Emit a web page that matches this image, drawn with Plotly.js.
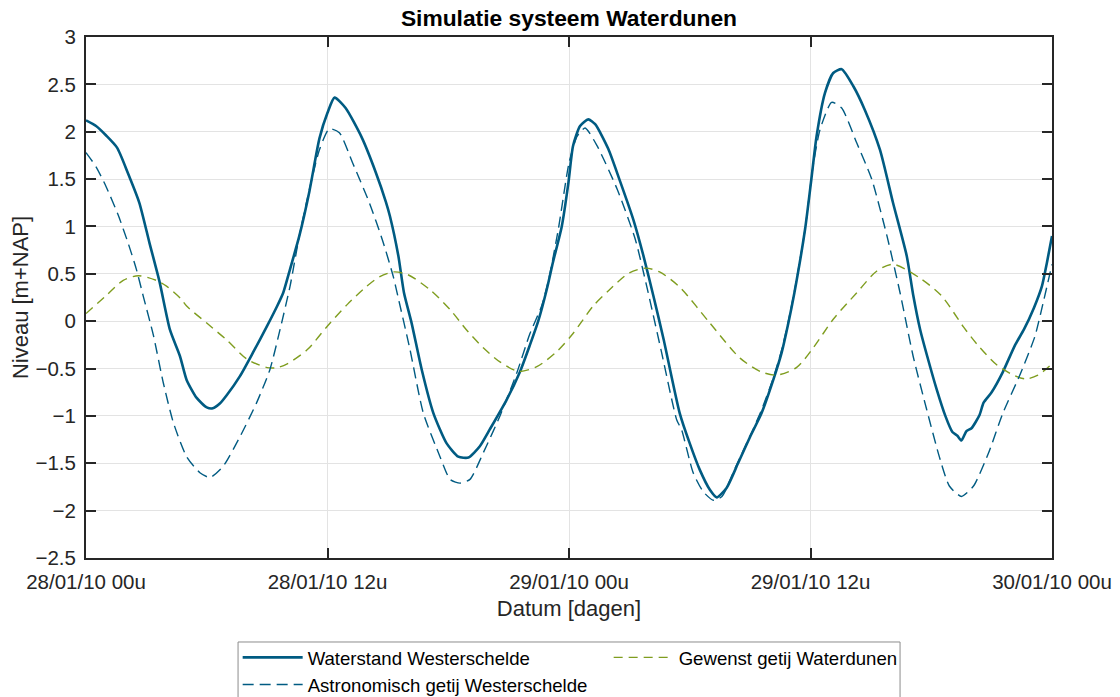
<!DOCTYPE html>
<html>
<head>
<meta charset="utf-8">
<script src="https://cdn.plot.ly/plotly-3.0.1.min.js"></script>
<style>html,body{margin:0;padding:0;background:#fff;}#chart{width:1120px;height:697px;}</style>
</head>
<body>
<div id="chart"></div>
<script>
// Hours since 28/01/10 00u
const tickVals = [0, 12, 24, 36, 48];
const tickLabels = ["28/01/10 00u", "28/01/10 12u", "29/01/10 00u", "29/01/10 12u", "30/01/10 00u"];

// Waterstand Westerschelde (solid)
const waterstandH = [0,0.5,1.0,1.55,2.07,2.65,3.15,3.65,4.17,4.67,5.0,5.5,6.0,6.3,6.65,7.0,7.65,8.3,9.0,9.5,9.8,10.14,10.6,11.1,11.6,12.0,12.35,12.9,13.7,14.4,14.9,15.1,15.52,15.8,16.18,16.68,17.26,17.92,18.5,19.0,19.57,20.07,20.9,21.57,22.06,22.47,22.9,23.2,23.64,23.97,24.2,24.55,24.96,25.3,25.95,26.5,27.2,27.7,28.2,28.7,29.5,30.0,30.5,31.0,31.34,31.83,32.4,33.0,33.57,34.15,34.57,34.9,35.2,35.73,36.06,36.3,36.72,37.13,37.55,38.13,38.7,39.45,40.1,40.78,41.1,41.45,41.8,42.27,42.7,43.05,43.3,43.5,43.75,44.0,44.4,44.6,45.0,45.55,46.17,46.6,47.1,47.5,47.75,48.0];
const waterstandV = [2.12,2.06,1.96,1.83,1.57,1.25,0.83,0.42,-0.09,-0.37,-0.62,-0.81,-0.91,-0.92,-0.87,-0.78,-0.58,-0.33,-0.05,0.16,0.30,0.55,0.90,1.37,1.93,2.20,2.36,2.25,1.94,1.57,1.26,1.11,0.69,0.30,-0.02,-0.51,-0.97,-1.29,-1.43,-1.44,-1.32,-1.14,-0.83,-0.53,-0.25,0.0,0.34,0.62,1.0,1.46,1.85,2.06,2.13,2.08,1.82,1.50,1.07,0.69,0.26,-0.19,-0.97,-1.29,-1.57,-1.78,-1.86,-1.76,-1.50,-1.22,-0.97,-0.62,-0.33,-0.02,0.30,0.97,1.53,1.95,2.41,2.62,2.66,2.48,2.23,1.81,1.25,0.69,0.28,-0.09,-0.37,-0.72,-1.0,-1.17,-1.21,-1.26,-1.16,-1.13,-0.99,-0.86,-0.75,-0.54,-0.25,-0.09,0.14,0.37,0.62,0.90];

// Astronomisch getij Westerschelde (dashed)
const astroH = [0,0.5,1.0,1.6,2.1,2.5,2.85,3.35,3.84,4.34,5.0,5.66,6.16,6.82,7.65,8.48,9.14,9.64,10.14,10.6,11.1,11.6,12.09,12.59,13.25,14.08,14.74,15.27,15.5,16.1,16.76,17.59,18.09,18.58,19.08,19.74,20.57,21.4,22.06,22.64,23.0,23.47,24.0,24.4,24.8,25.4,26.4,27.3,27.86,28.6,29.35,29.6,30.17,30.67,31.17,31.6,32.3,33.15,33.6,34.15,34.57,34.9,35.23,35.73,36.1,36.47,37.05,37.55,38.3,39.04,39.8,40.45,41.1,41.77,42.4,42.9,43.5,44.1,44.85,45.56,46.44,47.15,47.6,48.0];
const astroV = [1.78,1.63,1.42,1.12,0.82,0.55,0.26,-0.15,-0.65,-1.07,-1.43,-1.60,-1.65,-1.53,-1.22,-0.86,-0.51,-0.09,0.37,0.90,1.39,1.81,2.03,1.99,1.67,1.25,0.85,0.47,0.26,-0.30,-0.97,-1.43,-1.67,-1.71,-1.67,-1.39,-1.0,-0.55,-0.13,0.16,0.45,0.97,1.67,1.95,2.04,1.85,1.39,0.86,0.37,-0.33,-1.04,-1.15,-1.60,-1.80,-1.89,-1.85,-1.53,-1.14,-0.92,-0.60,-0.30,0.0,0.35,0.97,1.60,2.02,2.31,2.25,1.88,1.50,0.90,0.30,-0.37,-0.93,-1.43,-1.74,-1.85,-1.74,-1.39,-0.97,-0.55,-0.16,0.23,0.60];

// Gewenst getij Waterdunen (green dashed)
const gewenstH = [0,1.0,1.85,2.6,3.5,4.0,4.7,5.0,6.0,7.0,8.0,9.0,9.5,10.0,11.0,12.0,13.0,13.9,14.6,15.3,16.0,17.1,18.1,18.9,19.74,20.57,21.5,22.4,23.4,24.2,25.2,26.0,27.0,27.8,28.5,29.5,31.0,32.5,33.5,34.3,35.3,36.14,37.13,38.3,39.3,40.1,41.4,42.5,43.6,44.3,45.25,46.1,46.7,47.3,48.0];
const gewenstV = [0.08,0.27,0.43,0.48,0.43,0.37,0.24,0.16,-0.02,-0.20,-0.40,-0.49,-0.49,-0.45,-0.30,-0.05,0.18,0.36,0.47,0.52,0.49,0.33,0.12,-0.09,-0.28,-0.43,-0.53,-0.48,-0.32,-0.13,0.16,0.33,0.51,0.56,0.52,0.36,-0.02,-0.39,-0.53,-0.57,-0.49,-0.28,0.02,0.30,0.53,0.60,0.46,0.27,-0.06,-0.25,-0.46,-0.57,-0.61,-0.57,-0.45];

const blue = "#005b82";
const green = "#7f9d1f";
const axisColor = "#262626";
const fontFam = "'Liberation Sans', Arial, sans-serif";

const traces = [
  {x: waterstandH, y: waterstandV, type: "scatter", mode: "lines", name: "Waterstand Westerschelde",
   line: {color: blue, width: 2.6, shape: "spline", smoothing: 0.6}},
  {x: gewenstH, y: gewenstV, type: "scatter", mode: "lines", name: "Gewenst getij Waterdunen",
   line: {color: green, width: 1.4, dash: "9px,6px", shape: "spline", smoothing: 0.8}},
  {x: astroH, y: astroV, type: "scatter", mode: "lines", name: "Astronomisch getij Westerschelde",
   line: {color: blue, width: 1.4, dash: "11px,6px", shape: "spline", smoothing: 0.6}}
];

const layout = {
  width: 1120, height: 697,
  margin: {l: 86, r: 68, t: 37, b: 139, autoexpand: false},
  paper_bgcolor: "#ffffff", plot_bgcolor: "#ffffff",
  font: {family: fontFam, color: axisColor, size: 18},
  title: {text: "<b>Simulatie systeem Waterdunen</b>", font: {family: fontFam, size: 22.8, color: "#000000"},
          x: 0.508, xanchor: "center", y: 0.974, yanchor: "middle", yref: "container"},
  xaxis: {range: [0, 48], tickvals: tickVals, ticktext: tickLabels, showgrid: true, gridcolor: "#e3e3e3", gridwidth: 1,
          zeroline: false, showline: true, linecolor: axisColor, linewidth: 2, mirror: "ticks",
          ticks: "inside", ticklen: 10, tickwidth: 2, tickcolor: axisColor, tickfont: {size: 20.5, color: axisColor},
          ticklabelstandoff: 4,
          title: {text: "Datum [dagen]", font: {size: 22, color: axisColor}, standoff: 9}, automargin: false},
  yaxis: {range: [-2.5, 3], dtick: 0.5, tick0: 0, showgrid: true, gridcolor: "#e3e3e3", gridwidth: 1,
          zeroline: false, showline: true, linecolor: axisColor, linewidth: 2, mirror: "ticks",
          ticks: "inside", ticklen: 10, tickwidth: 2, tickcolor: axisColor, tickfont: {size: 20.5, color: axisColor},
          ticklabelstandoff: 4,
          title: {text: "Niveau [m+NAP]", font: {size: 22, color: axisColor}, standoff: 1}, automargin: false},
  shapes: [
    {type: "rect", xref: "paper", yref: "paper", x0: 0.1574, x1: 0.8427, y0: -0.1612, y1: -0.30,
     line: {color: "#8c8c8c", width: 1}, fillcolor: "rgba(0,0,0,0)", layer: "above"}
  ],
  showlegend: true,
  legend: {orientation: "h", x: 0.157, xanchor: "left", y: -0.155, yanchor: "top",
           bgcolor: "rgba(0,0,0,0)", borderwidth: 0,
           font: {size: 18.6, color: "#000000"}, entrywidth: 296, entrywidthmode: "pixels",
           itemwidth: 60, traceorder: "normal"}
};

Plotly.newPlot("chart", traces, layout, {displayModeBar: false, staticPlot: true});
</script>
</body>
</html>
